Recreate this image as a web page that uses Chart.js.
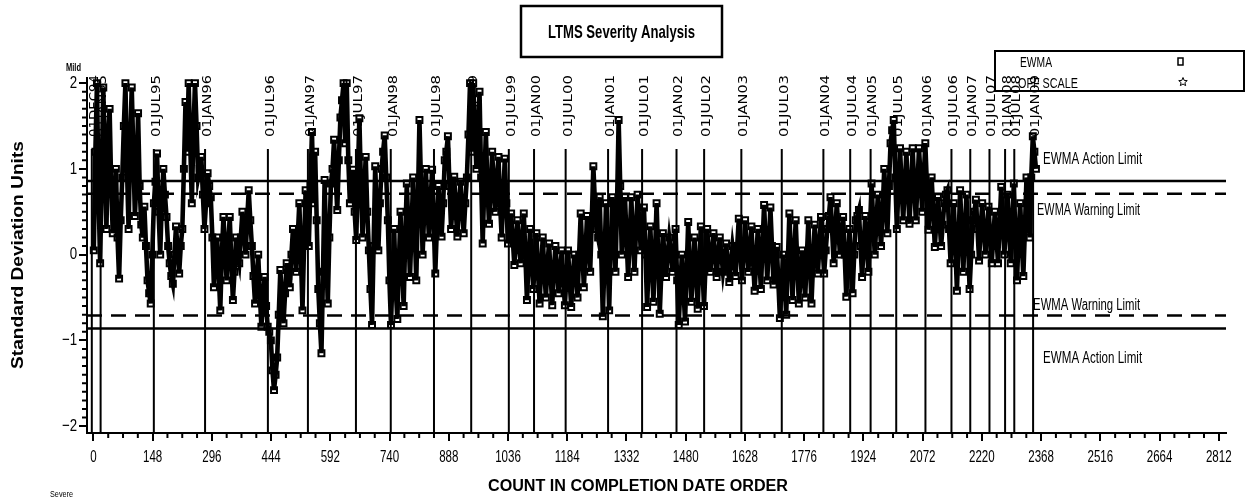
<!DOCTYPE html>
<html>
<head>
<meta charset="utf-8">
<script src="https://cdn.jsdelivr.net/npm/chart.js@4.4.1/dist/chart.umd.min.js"></script>
<style>
  html, body { margin: 0; padding: 0; background: #fff; }
  #wrap { width: 1245px; height: 498px; }
</style>
</head>
<body>
<div id="wrap"><canvas id="ewmaChart" width="1245" height="498"></canvas></div>
<script>
// EWMA value, one point every STEP tests
var STEP = 3.95;
var ewma = [
    0.05, 1.2, 2.0, 0.7, -0.1, 0.9, 1.95, 1.1, 0.3, 1.4, 1.7, 0.8, 0.25, 0.6, 1.0, 0.2, -0.28, 0.4, 0.9, 1.5,
    2.0, 1.0, 0.3, 1.3, 1.95, 1.2, 0.45, 0.9, 1.65, 0.8, 0.35, 0.2, 0.56, 0.1, -0.3, -0.45, -0.57, 0.0, 0.6, 0.85,
    1.18, 0.5, 0.0, 0.6, 1.0, 0.7, 0.44, 0.1, -0.1, -0.25, -0.34, 0.0, 0.33, 0.05, -0.22, 0.1, 0.3, 1.0, 1.78, 1.2,
    2.0, 1.3, 0.6, 1.4, 2.0, 1.5, 0.9, 1.0, 1.14, 0.7, 0.3, 0.6, 0.95, 0.8, 0.67, 0.2, -0.38, 0.0, 0.2, -0.2,
    -0.65, 0.0, 0.44, 0.1, -0.3, 0.1, 0.44, -0.1, -0.53, -0.2, 0.2, 0.0, -0.1, 0.2, 0.5, 0.3, 0.0, 0.4, 0.75, 0.4,
    0.1, -0.25, -0.57, -0.3, 0.0, -0.45, -0.84, -0.55, -0.26, -0.6, -0.84, -0.9, -1.0, -1.35, -1.58, -1.4, -1.2, -0.7, -0.18, -0.5,
    -0.8, -0.45, -0.1, -0.25, -0.38, 0.0, 0.3, 0.05, -0.2, 0.2, 0.6, 0.0, -0.65, 0.1, 0.75, 0.4, 0.1, 0.8, 1.43, 0.6,
    1.2, 0.4, -0.4, -0.8, -1.15, -0.2, 0.87, 0.1, -0.57, 0.2, 0.83, 1.0, 1.34, 0.9, 0.52, 1.1, 1.6, 1.8, 2.0, 1.3,
    2.0, 1.1, 0.6, 0.8, 0.99, 0.5, 0.17, 0.9, 1.59, 0.8, 0.2, 0.7, 1.14, 0.5, 0.05, -0.4, -0.82, 0.1, 1.03, 0.5,
    0.05, 0.6, 1.0, 1.2, 1.39, 0.9, 0.4, -0.3, -0.82, -0.2, 0.3, -0.4, -0.75, -0.1, 0.5, -0.1, -0.6, 0.2, 0.83, 0.3,
    -0.26, 0.3, 0.9, 0.3, -0.3, 0.6, 1.57, 0.8, 0.0, 0.5, 1.0, 0.6, 0.2, 0.6, 0.99, 0.4, -0.22, 0.3, 0.8, 0.5,
    0.21, 0.6, 1.1, 1.2, 1.38, 0.8, 0.3, 0.6, 0.91, 0.5, 0.21, 0.6, 0.85, 0.5, 0.25, 0.6, 0.9, 1.4, 2.0, 1.2,
    2.0, 1.5, 1.0, 1.4, 1.9, 0.9, 0.13, 0.8, 1.43, 0.8, 0.36, 0.7, 1.2, 0.8, 0.5, 0.9, 1.14, 0.6, 0.2, 0.7,
    1.12, 0.6, 0.13, 0.3, 0.48, 0.2, -0.12, 0.15, 0.4, 0.1, -0.1, 0.2, 0.48, 0.0, -0.53, -0.1, 0.3, -0.05, -0.4, -0.1,
    0.25, -0.2, -0.57, -0.15, 0.2, -0.2, -0.5, -0.1, 0.13, -0.25, -0.59, -0.2, 0.1, -0.15, -0.45, -0.2, 0.05, -0.3, -0.59, -0.25,
    0.05, -0.3, -0.61, -0.25, 0.0, -0.2, -0.5, 0.0, 0.48, 0.05, -0.38, 0.0, 0.45, 0.1, -0.2, 0.4, 1.03, 0.6, 0.3, 0.2,
    0.67, 0.0, -0.72, -0.1, 0.6, 0.0, -0.65, 0.1, 0.67, 0.3, -0.2, 0.6, 1.57, 0.8, 0.0, 0.3, 0.67, 0.2, -0.26, 0.2,
    0.67, 0.2, -0.2, 0.3, 0.7, 0.4, 0.05, 0.3, 0.55, 0.0, -0.61, -0.1, 0.33, -0.1, -0.55, 0.0, 0.6, 0.0, -0.69, -0.2,
    0.25, 0.0, -0.26, 0.0, 0.2, 0.05, -0.2, 0.0, 0.3, -0.3, -0.82, -0.4, 0.0, -0.4, -0.78, -0.2, 0.38, -0.1, -0.55, -0.2,
    0.2, -0.2, -0.63, -0.1, 0.33, -0.15, -0.6, -0.1, 0.3, 0.05, -0.2, 0.0, 0.25, 0.0, -0.26, 0.0, 0.2, 0.0, -0.2, -0.05,
    0.13, -0.1, -0.32, -0.1, 0.1, -0.05, -0.25, 0.1, 0.42, 0.05, -0.3, 0.0, 0.4, 0.1, -0.2, 0.05, 0.33, -0.05, -0.42, -0.1,
    0.3, -0.05, -0.4, 0.1, 0.58, 0.15, -0.3, 0.1, 0.55, 0.1, -0.35, -0.1, 0.09, -0.3, -0.74, -0.4, 0.0, -0.35, -0.7, -0.1,
    0.48, 0.0, -0.53, -0.05, 0.4, -0.1, -0.57, -0.3, 0.05, -0.2, -0.5, -0.05, 0.4, -0.1, -0.57, -0.1, 0.35, 0.1, -0.22, 0.1,
    0.44, 0.1, -0.22, 0.05, 0.3, 0.45, 0.67, 0.3, -0.1, 0.25, 0.6, 0.3, 0.0, 0.2, 0.44, 0.0, -0.49, -0.1, 0.3, -0.1,
    -0.45, 0.0, 0.4, 0.45, 0.52, 0.1, -0.26, 0.1, 0.45, 0.1, -0.2, 0.3, 0.83, 0.4, 0.0, 0.35, 0.7, 0.4, 0.1, 0.5,
    1.0, 0.6, 0.25, 0.8, 1.3, 1.45, 1.57, 0.9, 0.3, 0.8, 1.24, 0.8, 0.4, 0.8, 1.2, 0.75, 0.36, 0.8, 1.24, 0.8,
    0.4, 0.8, 1.24, 0.9, 0.5, 0.9, 1.3, 0.8, 0.29, 0.6, 0.9, 0.5, 0.09, 0.4, 0.67, 0.4, 0.1, 0.35, 0.6, 0.7,
    0.75, 0.3, -0.1, 0.25, 0.6, 0.1, -0.42, 0.15, 0.75, 0.3, -0.2, 0.25, 0.7, 0.2, -0.4, 0.0, 0.4, 0.5, 0.64, 0.3,
    -0.07, 0.3, 0.6, 0.3, 0.0, 0.25, 0.56, 0.2, -0.1, 0.2, 0.5, 0.2, -0.1, 0.35, 0.79, 0.4, 0.0, 0.35, 0.7, 0.3,
    -0.1, 0.4, 0.83, 0.2, -0.3, 0.2, 0.6, 0.15, -0.25, 0.3, 0.9, 0.6, 0.2, 0.9, 1.38, 1.2, 1.0
];

var xTicks = [0, 148, 296, 444, 592, 740, 888, 1036, 1184, 1332, 1480, 1628, 1776, 1924, 2072, 2220, 2368, 2516, 2664, 2812];
var yTicks = [-2, -1, 0, 1, 2];
var yTickLabels = ['\u22122', '\u22121', '0', '1', '2'];

// date reference lines (count where each date starts)
var dateLabels = ['01DEC94', '01JAN95', '01JUL95', '01JAN96', '01JUL96', '01JAN97', '01JUL97', '01JAN98', '01JUL98', '01JAN99',
    '01JUL99', '01JAN00', '01JUL00', '01JAN01', '01JUL01', '01JAN02', '01JUL02', '01JAN03', '01JUL03', '01JAN04',
    '01JUL04', '01JAN05', '01JUL05', '01JAN06', '01JUL06', '01JAN07', '01JUL07', '01JAN08', '01JUL08', '01JAN09'];
var dateCounts = [-4, 18, 151, 279, 436, 536, 656, 743, 851, 944,
    1038, 1101, 1180, 1286, 1371, 1457, 1526, 1619, 1720, 1824,
    1891, 1942, 2006, 2079, 2144, 2191, 2239, 2278, 2301, 2348];

var actionLimit = [0.86, -0.86];
var warningLimit = [0.71, -0.71];

// text helper: scales the text horizontally to a wanted width
function drawText(ctx, s, x, y, font, opts) {
    opts = opts || {};
    ctx.save();
    ctx.font = font;
    ctx.fillStyle = '#000';
    ctx.textBaseline = 'middle';
    ctx.translate(x, y);
    if (opts.rotate) ctx.rotate(opts.rotate);
    var w = ctx.measureText(s).width;
    var sx = opts.width ? opts.width / w : (opts.sx || 1);
    ctx.scale(sx, 1);
    ctx.textAlign = opts.align || 'center';
    ctx.fillText(s, 0, 0);
    ctx.restore();
}

function hLine(ctx, area, y, dash) {
    ctx.save();
    ctx.strokeStyle = '#000';
    ctx.lineWidth = 2.5;
    ctx.setLineDash(dash || []);
    ctx.beginPath();
    ctx.moveTo(area.left, y);
    ctx.lineTo(area.right, y);
    ctx.stroke();
    ctx.restore();
}

var backgroundPlugin = {
    id: 'limitsAndDates',
    beforeDatasetsDraw: function (chart) {
        var ctx = chart.ctx, area = chart.chartArea;
        var xs = chart.scales.x, ys = chart.scales.y;

        // date lines
        ctx.save();
        ctx.strokeStyle = '#000';
        ctx.lineWidth = 2;
        dateCounts.forEach(function (c, i) {
            var px = xs.getPixelForValue(c);
            ctx.beginPath();
            ctx.moveTo(px, 149);
            ctx.lineTo(px, area.bottom);
            ctx.stroke();
            drawText(ctx, dateLabels[i], px + 2.5, 106, '13px "DejaVu Sans"', {rotate: -Math.PI / 2, width: 62});
        });
        ctx.restore();

        // limits
        actionLimit.forEach(function (v) { hLine(ctx, area, ys.getPixelForValue(v)); });
        warningLimit.forEach(function (v) { hLine(ctx, area, ys.getPixelForValue(v), [15, 9]); });

        var labelFont = '16px "Liberation Sans"';
        var xa = xs.getPixelForValue(2373), xw = xs.getPixelForValue(2358);
        drawText(ctx, 'EWMA Action Limit', xa, ys.getPixelForValue(actionLimit[0]) - 21, labelFont, {align: 'left', width: 99});
        drawText(ctx, 'EWMA Warning Limit', xw, ys.getPixelForValue(warningLimit[0]) + 17, labelFont, {align: 'left', width: 103});
        drawText(ctx, 'EWMA Warning Limit', xw - 4, ys.getPixelForValue(warningLimit[1]) - 10, labelFont, {align: 'left', width: 107});
        drawText(ctx, 'EWMA Action Limit', xa, ys.getPixelForValue(actionLimit[1]) + 30, labelFont, {align: 'left', width: 99});
    },
    afterDraw: function (chart) {
        var ctx = chart.ctx, area = chart.chartArea;
        var xs = chart.scales.x, ys = chart.scales.y;

        // minor ticks
        ctx.save();
        ctx.strokeStyle = '#000';
        ctx.lineWidth = 2;
        ctx.beginPath();
        for (var c = 37; c < 2812; c += 37) {
            if (c % 148 === 0) continue;
            var px = xs.getPixelForValue(c);
            ctx.moveTo(px, area.bottom);
            ctx.lineTo(px, area.bottom + 5);
        }
        for (var k = -20; k <= 20; k++) {
            if (k % 10 === 0) continue;
            var py = ys.getPixelForValue(k / 10);
            ctx.moveTo(area.left, py);
            ctx.lineTo(area.left - 5, py);
        }
        ctx.stroke();
        ctx.restore();

        // tick labels
        var tickFont = '17px "Liberation Sans"';
        xTicks.forEach(function (v) {
            drawText(ctx, String(v), xs.getPixelForValue(v), 457, tickFont, {sx: 0.68});
        });
        yTicks.forEach(function (v, i) {
            drawText(ctx, yTickLabels[i], 77, ys.getPixelForValue(v), tickFont, {align: 'right', sx: 0.78});
        });

        // axis titles
        drawText(ctx, 'COUNT IN COMPLETION DATE ORDER', 638, 487, 'bold 16px "Liberation Sans"', {width: 300});
        drawText(ctx, 'Standard Deviation Units', 18, 255, 'bold 17px "Liberation Sans"', {rotate: -Math.PI / 2, width: 228});
        drawText(ctx, 'Mild', 66, 68, 'bold 10px "Liberation Sans"', {align: 'left', width: 15});
        drawText(ctx, 'Severe', 50, 495, '9px "Liberation Sans"', {align: 'left', width: 23});

        // title box
        ctx.save();
        ctx.strokeStyle = '#000';
        ctx.lineWidth = 2.5;
        ctx.strokeRect(521, 6, 201, 51);
        ctx.restore();
        drawText(ctx, 'LTMS Severity Analysis', 621.5, 33, 'bold 19px "Liberation Sans"', {width: 147});

        // legend box
        ctx.save();
        ctx.strokeStyle = '#000';
        ctx.lineWidth = 2;
        ctx.strokeRect(995, 51, 249, 40);
        ctx.lineWidth = 1.5;
        ctx.strokeRect(1178, 58, 5, 7);
        // small star
        ctx.beginPath();
        for (var s = 0; s < 10; s++) {
            var r = s % 2 === 0 ? 4.5 : 2;
            var a = -Math.PI / 2 + s * Math.PI / 5;
            var sx = 1183 + r * Math.cos(a), sy = 82 + r * Math.sin(a);
            if (s === 0) ctx.moveTo(sx, sy); else ctx.lineTo(sx, sy);
        }
        ctx.closePath();
        ctx.lineWidth = 1;
        ctx.stroke();
        ctx.restore();
        drawText(ctx, 'EWMA', 1020, 63, '15px "Liberation Sans"', {align: 'left', width: 32});
        drawText(ctx, 'OFF SCALE', 1018, 84, '15px "Liberation Sans"', {align: 'left', width: 60});
    }
};

var ctx = document.getElementById('ewmaChart');

var chart = new Chart(ctx, {
    type: 'line',
    data: {
        datasets: [{
            label: 'EWMA',
            data: ewma.map(function (v, i) { return {x: 1 + i * STEP, y: v}; }),
            borderColor: '#000',
            borderWidth: 4.6,
            lineTension: 0,
            fill: false,
            pointStyle: 'rect',
            pointRadius: 4.2,
            pointBorderWidth: 2,
            pointBorderColor: '#000',
            pointBackgroundColor: 'rgba(0,0,0,0)'
        }]
    },
    options: {
        responsive: false,
        animation: false,
        events: [],
        layout: {padding: {top: 78, right: 19, left: 0, bottom: 0}},
        plugins: {legend: {display: false}, tooltip: {enabled: false}},
        scales: {
            x: {
                type: 'linear',
                min: -16,
                max: 2830,
                afterBuildTicks: function (scale) {
                    scale.ticks = xTicks.map(function (v) { return {value: v}; });
                },
                afterFit: function (scale) { scale.height = 65; },
                ticks: {display: false},
                grid: {drawOnChartArea: false, drawTicks: true, tickLength: 8, color: '#000', lineWidth: 2},
                border: {display: true, color: '#000', width: 2}
            },
            y: {
                type: 'linear',
                min: -2.08,
                max: 2.06,
                afterBuildTicks: function (scale) {
                    scale.ticks = yTicks.map(function (v) { return {value: v}; });
                },
                afterFit: function (scale) { scale.width = 87; },
                ticks: {display: false},
                grid: {drawOnChartArea: false, drawTicks: true, tickLength: 8, color: '#000', lineWidth: 2},
                border: {display: true, color: '#000', width: 2}
            }
        }
    },
    plugins: [backgroundPlugin]
});
</script>
</body>
</html>
